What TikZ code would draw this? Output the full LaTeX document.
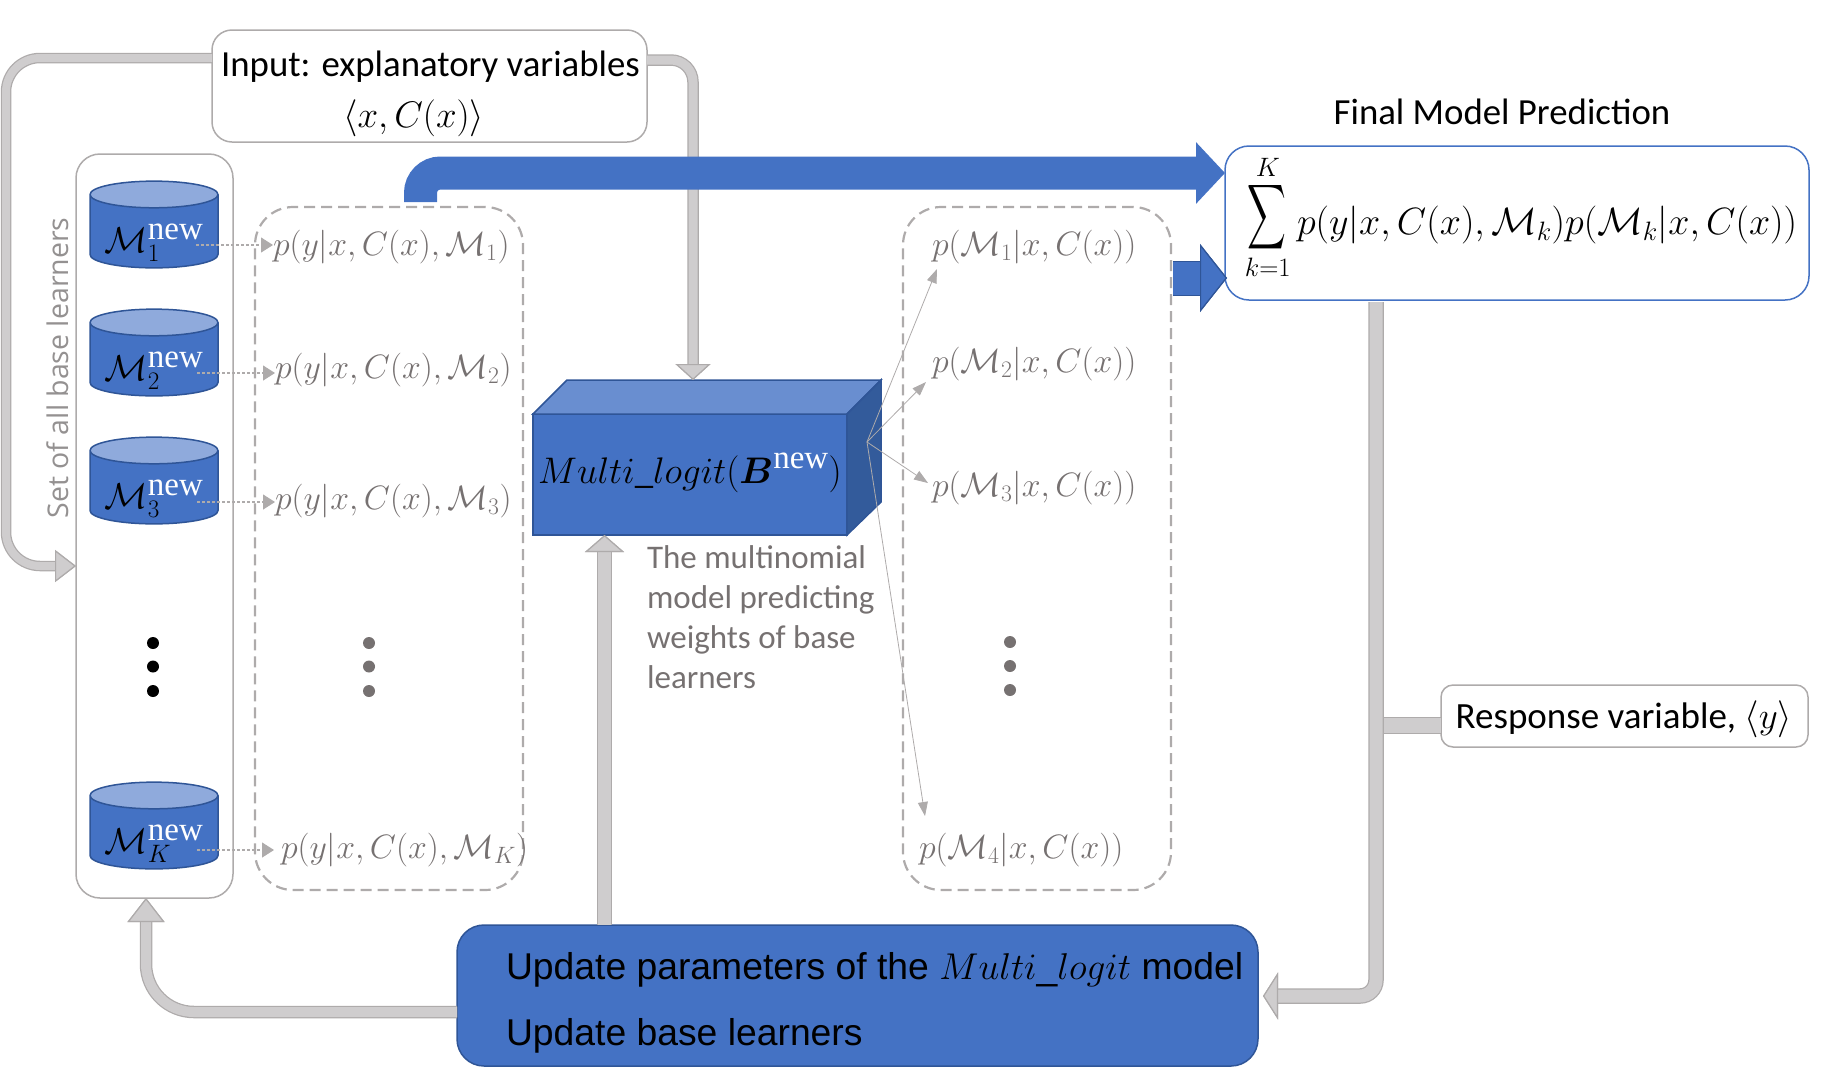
\RequirePackage{fix-cm}
\documentclass[tikz,border=0pt]{standalone}
\usepackage{amsmath}
\usepackage[no-math]{fontspec}
\setmainfont{Carlito}
\newfontfamily\arialfont{Liberation Sans}
\newfontfamily\serifnew{Liberation Serif}
\newfontfamily\setfont{Open Sans}
\usetikzlibrary{shapes.geometric,arrows.meta}
\definecolor{flowblue}{HTML}{4472C4}
\definecolor{edgeblue}{HTML}{2F5597}
\definecolor{capblue}{HTML}{8FAADC}
\definecolor{topblue}{HTML}{698ED0}
\definecolor{sideblue}{HTML}{335B9B}
\definecolor{flowgray}{HTML}{CFCDCE}
\definecolor{edgegray}{HTML}{AEABAB}
\definecolor{textgray}{HTML}{767171}
\newcommand{\wnew}{\hbox{\fontsize{33}{33}\serifnew\color{white}new}}
\begin{document}
\begin{tikzpicture}[x=1pt,y=-1pt,
                every node/.style = {inner sep=0pt, outer sep=0pt},
                bodyfont/.style = {font=\fontsize{36.8}{42}\selectfont},
                formula/.style = {font=\fontsize{33.8}{38}\selectfont, text=textgray},
                whitebox/.style = {draw=edgegray, line width=1.5pt, fill=white, rectangle, rounded corners=#1},
                dashbox/.style = {draw=edgegray, line width=2.2pt, rounded corners=38pt, dash pattern=on 11pt off 6pt},
                basecyl/.style = {cylinder, shape border rotate=90, aspect=0.27, anchor=shape center,
                                  minimum width=128pt, minimum height=85pt, draw=edgeblue, line width=1.5pt,
                                  cylinder uses custom fill, cylinder body fill=flowblue, cylinder end fill=capblue,
                                  font=\fontsize{36}{40}\selectfont, text height=44pt, text depth=2pt},
                dotmark/.style = {circle, minimum size=12pt, fill=#1},
                grayflow/.style n args = {3}{draw=flowgray, line width=#1, rounded corners=26pt,
                                  preaction={draw=edgegray, line width=#1+2.5},
                                  -{Triangle[length=#3, width=#2, color=edgegray, fill=flowgray, line width=1.2pt]}},
                thinflow/.style = {draw=edgegray, line width=0.8pt, -{Triangle[length=14pt, width=10pt]}},
                dotflow/.style = {draw=edgegray, line width=1.2pt, dash pattern=on 3pt off 2pt,
                                  -{Triangle[length=12pt, width=15pt]}}
            ]
            \useasboundingbox (0,0) rectangle (1827,1077);
            \node[whitebox=20pt, minimum width=435pt, minimum height=112pt] (input) at (429.5,86) {};
            \node[whitebox=24pt, minimum width=157pt, minimum height=744pt] (learners) at (154.5,526) {};
            \node[dashbox, rectangle, minimum width=268pt, minimum height=683pt] (leftpanel) at (389,548.5) {};
            \node[dashbox, rectangle, minimum width=268pt, minimum height=683pt] (rightpanel) at (1037,548.5) {};
            \node[bodyfont] (inputtxt) at (430.5,67) {Input: explanatory variables};
            \node[font=\fontsize{37}{40}\selectfont] (inputvars) at (413.6,118) {$\langle x,C(x)\rangle$};
            \node[font=\setfont\fontsize{28.5}{30}\selectfont, text=edgegray!85!black, rotate=90] (settxt) at (58,368) {Set of all base learners};
            \node[basecyl] (m1) at (154,224.5) {$\mathcal{M}_{1}^{\wnew}$};
            \node[basecyl] (m2) at (154,352.5) {$\mathcal{M}_{2}^{\wnew}$};
            \node[basecyl] (m3) at (154,480.5) {$\mathcal{M}_{3}^{\wnew}$};
            \node[basecyl] (mk) at (154,825.5) {$\mathcal{M}_{K}^{\wnew}$};
            \node[dotmark=black] (d1) at (153,643) {};
            \node[dotmark=black] (d2) at (153,666.5) {};
            \node[dotmark=black] (d3) at (153,691) {};
            \node[formula, anchor=west] (p1) at (273,247) {$p(y|x,C(x),\mathcal{M}_1)$};
            \node[formula, anchor=west] (p2) at (275,370) {$p(y|x,C(x),\mathcal{M}_2)$};
            \node[formula, anchor=west] (p3) at (275,501) {$p(y|x,C(x),\mathcal{M}_3)$};
            \node[formula, anchor=west] (pk) at (281,850) {$p(y|x,C(x),\mathcal{M}_K)$};
            \node[dotmark=textgray] (d4) at (369,643) {};
            \node[dotmark=textgray] (d5) at (369,666.5) {};
            \node[dotmark=textgray] (d6) at (369,691) {};
            \node[formula, anchor=west] (w1) at (932,247) {$p(\mathcal{M}_1|x,C(x))$};
            \node[formula, anchor=west] (w2) at (932,364) {$p(\mathcal{M}_2|x,C(x))$};
            \node[formula, anchor=west] (w3) at (932,488) {$p(\mathcal{M}_3|x,C(x))$};
            \node[formula, anchor=west] (w4) at (919,850) {$p(\mathcal{M}_4|x,C(x))$};
            \node[dotmark=textgray] (d7) at (1010,642) {};
            \node[dotmark=textgray] (d8) at (1010,666) {};
            \node[dotmark=textgray] (d9) at (1010,690) {};
            \node[rectangle, draw=edgeblue, fill=flowblue, line width=1.5pt, minimum width=314pt, minimum height=121pt] (mlogit) at (690,474.5) {};
            \draw[draw=edgeblue, fill=topblue, line width=1.5pt] (mlogit.north west) -- ++(34,-34) -- ++(314,0) -- (mlogit.north east) -- cycle;
            \draw[draw=edgeblue, fill=sideblue, line width=1.5pt] (mlogit.north east) -- ++(34,-34) -- ++(0,122) -- (mlogit.south east) -- cycle;
            \node[font=\fontsize{37}{40}\selectfont] (mlogittxt) at (690,473) {$Multi\_logit(\boldsymbol{B}^{\wnew})$};
            \node[text=textgray, align=left, anchor=north west, font=\fontsize{33}{40}\selectfont] (mlogitnote) at (647,546) {The multinomial\\model predicting\\weights of base\\learners};
            \node[draw=edgeblue, fill=flowblue, rectangle, rounded corners=27pt, line width=1.5pt, minimum width=801pt, minimum height=141pt] (update) at (857.5,995.5) {};
            \node[font=\arialfont\fontsize{37.3}{40}\selectfont, anchor=west] (updatea) at (506,970) {Update parameters of the $Multi\_logit$ model};
            \node[font=\arialfont\fontsize{37.3}{40}\selectfont, anchor=west] (updateb) at (506,1036) {Update base learners};
            \node[draw=flowblue, fill=white, rectangle, rounded corners=24pt, line width=1.5pt, minimum width=584pt, minimum height=154pt] (final) at (1517,223) {};
            \node[bodyfont] (finaltxt) at (1502,112) {Final Model Prediction};
            \node[font=\fontsize{38}{40}\selectfont] (finalsum) at (1521,217) {$\displaystyle\mathop{\scalebox{1.08}[1.82]{$\displaystyle\sum$}}_{k=1}^{K}p(y|x,C(x),\mathcal{M}_k)p(\mathcal{M}_k|x,C(x))$};
            \node[whitebox=12pt, minimum width=367pt, minimum height=62pt] (response) at (1624.5,716) {};
            \node[font=\fontsize{37}{40}\selectfont] (responsetxt) at (1624,719) {Response variable, $\langle y\rangle$};
            \coordinate (leftout) at (212,58);
            \coordinate (leftin) at (76,566);
            \coordinate (rightout) at (647,60);
            \coordinate (rightin) at (693,380);
            \coordinate (backout) at (457,1012);
            \coordinate (backin) at (146,898);
            \coordinate (upout) at (604.5,925);
            \coordinate (upin) at (604.5,535);
            \coordinate (resultout) at (1376,302);
            \coordinate (resultin) at (1263,996);
            \coordinate (responseout) at (1441,725);
            \coordinate (responsein) at (1383,725);
            \coordinate (blueout) at (420.5,202);
            \coordinate (bluein) at (1225,173);
            \coordinate (smallout) at (1173,278);
            \coordinate (smallin) at (1227,278);
            \coordinate (mlout) at (867,442);
            \draw[grayflow={8pt}{32pt}{21pt}, rounded corners=34pt] (leftout) -| (6,566) -- (leftin);
            \draw[grayflow={9pt}{35pt}{16pt}, rounded corners=22pt] (rightout) -| (rightin);
            \draw[grayflow={10pt}{37pt}{24pt}, rounded corners=48pt] (backout) -| (backin);
            \draw[grayflow={13pt}{39pt}{17pt}] (upout) -- (upin);
            \draw[grayflow={13pt}{47pt}{15pt}, rounded corners=16pt] (resultout) |- (resultin);
            \draw[draw=edgegray, fill=flowgray, line width=1pt] (responsein |- 0,717) rectangle (responseout |- 0,733);
            \draw[draw=flowblue, line width=33pt, rounded corners=20pt, -{Triangle[length=29pt, width=60pt]}] (blueout) |- (bluein);
            \draw[draw=flowblue, line width=33pt, preaction={draw=edgeblue, line width=35pt},
                  -{Triangle[length=27pt, width=68pt, color=edgeblue, fill=flowblue, line width=1.2pt]}] (smallout) -- (smallin);
            \draw[dotflow] (196,245) -- (p1.west |- 0,245);
            \draw[dotflow] (197,373) -- (p2.west |- 0,373);
            \draw[dotflow] (197,502) -- (p3.west |- 0,502);
            \draw[dotflow] (197,850) -- (274,850);
            \draw[thinflow] (mlout) -- (937,269);
            \draw[thinflow] (mlout) -- (926,382);
            \draw[thinflow] (mlout) -- (928,483);
            \draw[thinflow] (mlout) -- (925,816);
        \end{tikzpicture}
\end{document}
